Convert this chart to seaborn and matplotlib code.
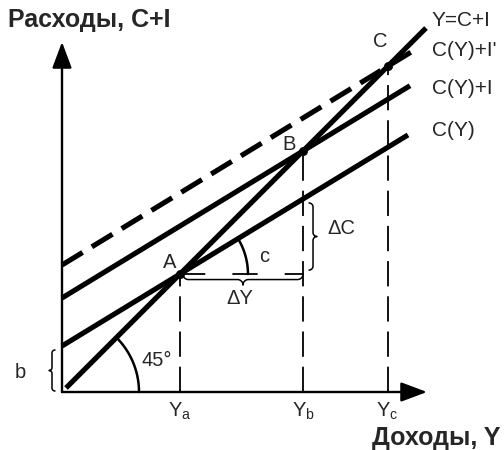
import matplotlib
matplotlib.use("Agg")
import matplotlib.pyplot as plt
import numpy as np
import pandas as pd
import seaborn as sns

# model values (one data unit ~ one pixel of the original drawing)
mpc = 0.61                                  # marginal propensity to consume, c
intercepts = [46, 94, 127]                  # b, b+I, b+I'
line_names = ["C(Y)", "C(Y)+I", "C(Y)+I'"]
line_ends = [346, 348, 358]
diag_range = [4, 364]                       # Y = C+I (45 degree line)
point_names = ["A", "B", "C"]
tick_subs = ["a", "b", "c"]
right_labels = ["Y=C+I", "C(Y)+I'", "C(Y)+I", "C(Y)"]


def brace(ax, start, end, depth, lw=1.1):
  p0 = np.array(start, float)
  p1 = np.array(end, float)
  d = p1 - p0
  L = np.hypot(*d)
  u = d / L
  n = np.array([-u[1], u[0]])
  r = depth / 2
  th = np.linspace(0, np.pi / 2, 25)
  s1, t1 = abs(r) * (1 - np.cos(th)), r * np.sin(th)
  s2, t2 = L / 2 - abs(r) + abs(r) * np.sin(th), r + r * (1 - np.cos(th))
  s = np.r_[s1, s2, (L - s2)[::-1], (L - s1)[::-1]]
  t = np.r_[t1, t2, t2[::-1], t1[::-1]]
  pts = p0 + np.outer(s, u) + np.outer(t, n)
  ax.plot(pts[:, 0], pts[:, 1], color="black", lw=lw)


sns.set_theme(style="white")
plt.rcParams["font.family"] = ["Liberation Sans", "DejaVu Sans"]
plt.rcParams["mathtext.default"] = "regular"

fig = plt.figure(figsize=(5.04, 4.5), dpi=100)
ax = fig.add_axes([0, 0, 1, 1])
ax.set_xlim(-62, 442)
ax.set_ylim(-58, 392)
ax.axis("off")

# axes with arrows
arrow = dict(arrowstyle="-|>,head_length=1.6,head_width=0.6", lw=1.7, color="black",
             shrinkA=0, shrinkB=0, mutation_scale=10)
ax.annotate("", xy=(0, 350), xytext=(0, 0), arrowprops=arrow)
ax.annotate("", xy=(365, 0), xytext=(0, 0), arrowprops=arrow)

# consumption / expenditure lines
rows = []
for name, b, xe in zip(line_names, intercepts, line_ends):
  rows += [{"line": name, "x": 0, "y": b}, {"line": name, "x": xe, "y": b + mpc * xe}]
rows += [{"line": "Y=C+I", "x": x, "y": x} for x in diag_range]
lines = pd.DataFrame(rows)

for name in ["C(Y)", "C(Y)+I", "Y=C+I"]:
  sub = lines[lines["line"] == name]
  sns.lineplot(data=sub, x="x", y="y", ax=ax, color="black", lw=3.7, estimator=None, sort=False,
               solid_capstyle="butt")
sub = lines[lines["line"] == "C(Y)+I'"]
sns.lineplot(data=sub, x="x", y="y", ax=ax, color="black", lw=3.7, estimator=None, sort=False,
             dashes=False, linestyle=(0, (4.7, 2.1)), dash_capstyle="butt")

# equilibrium points
eq = [b / (1 - mpc) for b in intercepts]
sns.scatterplot(x=eq, y=eq, ax=ax, color="black", s=35, zorder=5, edgecolor="black")

thin = dict(color="black", lw=1.3, linestyle=(0, (14, 5.5)))
for x in eq:
  ax.plot([x, x], [0, x], **thin)
xa, xb = eq[0], eq[1]
ax.plot([xa, xb], [xa, xa], color="black", lw=1.3, linestyle=(0, (14, 15)))

# point labels and tick labels
offsets = [(-10, 12), (-14, 6), (-7, 25)]
for name, x, (dx, dy) in zip(point_names, eq, offsets):
  ax.text(x + dx, x + dy, name, fontsize=14.5, ha="center", va="center")
for sub_, x in zip(tick_subs, eq):
  ax.text(x, -19, "$Y_{" + sub_ + "}$", fontsize=14.5, ha="center", va="center")

# right-hand line labels
for lab, y in zip(right_labels, [372, 342, 304, 261]):
  ax.text(370, y, lab, fontsize=15, ha="left", va="center")

# angle arcs
th = np.linspace(0, np.pi / 4, 40)
ax.plot(77 * np.cos(th), 77 * np.sin(th), color="black", lw=1.8)
ax.text(95, 32, "45°", fontsize=14.5, ha="center", va="center")
th = np.linspace(0, np.arctan(mpc), 40)
ax.plot(xa + 68 * np.cos(th), xa + 68 * np.sin(th), color="black", lw=1.8)
ax.text(202, 135, "c", fontsize=14.5, ha="center", va="center")

# braces
brace(ax, (xa + 3, xa), (xb, xa), -11)
ax.text(178, 94, "ΔY", fontsize=14.5, ha="center", va="center")
yc_b = intercepts[0] + mpc * xb
brace(ax, (xb + 6, xa + 4), (xb + 6, yc_b - 4), -8)
ax.text(279, 164, "ΔC", fontsize=14.5, ha="center", va="center")
brace(ax, (-7, 1), (-7, intercepts[0] - 4), 6)
ax.text(-42, 19, "b", fontsize=14.5, ha="center", va="center")

# axis titles
ax.text(-54, 372, "Расходы, C+I", fontsize=18, fontweight="bold", ha="left", va="center")
ax.text(438, -46, "Доходы, Y", fontsize=18, fontweight="bold", ha="right", va="center")

fig.savefig("out.png", dpi=100)
